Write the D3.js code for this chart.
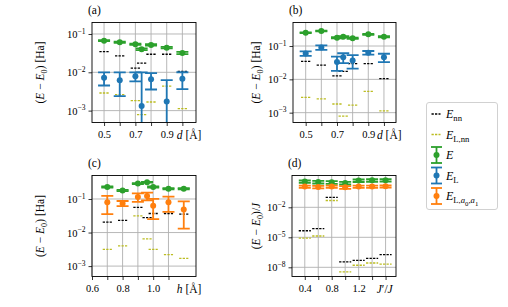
<!DOCTYPE html>
<html>
<head>
<meta charset="utf-8">
<script src="https://cdn.jsdelivr.net/npm/d3@7"></script>
<style>
  body { margin: 0; background: #fff; }
  svg { display: block; }
  text { font-family: "Liberation Serif", "DejaVu Serif", serif; fill: #000; }
</style>
</head>
<body>
<svg id="fig" width="508" height="307"></svg>
<script>
// ---- data ----
// panels (a) and (b): bond length d [Å]
const dVals = [0.5, 0.6, 0.7, 0.74, 0.8, 0.9, 1.0]
const dEnn = [0.0347, 0.0268, 0.0128, 0.0173, 0.0296, 0.0296, 0.0105]
const dELnn = [0.00288, 0.0026, 0.00182, 0.00079, 0.00168, 0.00438, 0.00113]
const aE = [0.067, 0.061, 0.054, 0.040, 0.052, 0.044, 0.032]
const aEerr = [0.002, 0.002, 0.002, 0.002, 0.002, 0.002, 0.002]
const aEL = [0.00726, 0.0062, 0.00787, 0.00132, 0.00656, 0.00172, 0.00684]
const aELerr = [0.00274, 0.0038, 0.0021, 0.0087, 0.0030, 0.0045, 0.0032]
const bE = [0.251, 0.282, 0.178, 0.19, 0.17, 0.224, 0.19]
const bEerr = [0.007, 0.007, 0.007, 0.007, 0.007, 0.007, 0.007]
const bEL = [0.060, 0.091, 0.033, 0.0457, 0.037, 0.063, 0.0457]
const bELerr = [0.0095, 0.014, 0.015, 0.015, 0.016, 0.008, 0.013]

// panel (c): h [Å]
const hVals = [0.7, 0.8, 0.9, 0.96, 1.0, 1.1, 1.2]
const cEnn = [0.0205, 0.023, 0.056, 0.028, 0.037, 0.037, 0.0356]
const cELnn = [0.00316, 0.0040, 0.0316, 0.0065, 0.00316, 0.0022, 0.0017]
const cE = [0.228, 0.18, 0.287, 0.315, 0.228, 0.203, 0.203]
const cEerr = [0.008, 0.008, 0.008, 0.008, 0.008, 0.008, 0.008]
const cEa = [0.0795, 0.074, 0.115, 0.123, 0.063, 0.0795, 0.049]
const cEaErr = [0.044, 0.013, 0.033, 0.032, 0.038, 0.038, 0.036]

// panel (d): J'/J
const jVals = [0.4, 0.6, 0.8, 1.0, 1.2, 1.4, 1.6]
const jEnn = [4.5e-5, 7.4e-5, 0.1, 3.5e-8, 5.0e-8, 7.9e-8, 1.86e-7]
const jELnn = [8.3e-6, 1.35e-5, 0.048, 3.5e-9, 1.6e-8, 2.7e-8, 2.1e-8]
const jE = [3.8, 3.4, 3.2, 2.7, 4.7, 5.0, 5.2]
const jEerr = [1.0, 1.0, 1.0, 0.8, 1.3, 1.4, 1.4]
const jEa = [1.17, 1.08, 1.17, 1.0, 1.17, 1.17, 1.26]
const jEaErr = [0.3, 0.3, 0.3, 0.3, 0.3, 0.3, 0.3]

// tick values
const dTicks = [0.5, 0.6, 0.7, 0.8, 0.9, 1.0]
const dTickLabels = [0.5, 0.7, 0.9]
const hTicks = [0.6, 0.7, 0.8, 0.9, 1.0, 1.1]
const hTickLabels = [0.6, 0.8, 1.0]
const jTicks = [0.4, 0.6, 0.8, 1.0, 1.2, 1.4, 1.6]
const jTickLabels = [0.4, 0.8, 1.2]
const yTicksHa = [-1, -2, -3]
const yTicksJ = [-2, -5, -8]

const GREEN = '#2ca02c', BLUE = '#1f77b4', ORANGE = '#ff7f0e', OLIVE = '#bcbd22'

const svg = d3.select('#fig')

// writes mixed roman / italic / sub / superscript text into a <text>
// each part: [string, italic, level]  level 0 normal, 1 sub, 2 subsub, -1 super
function rich(text, parts, size) {
    const shift = { 0: 0, 1: 0.28 * size, 2: 0.48 * size, '-1': -0.42 * size }
    const fs = { 0: size, 1: 0.72 * size, 2: 0.56 * size, '-1': 0.72 * size }
    let cur = 0
    parts.forEach(([t, it, lv = 0]) => {
        const s = shift[lv]
        text.append('tspan')
            .attr('dy', s - cur)
            .attr('font-size', fs[lv])
            .attr('font-style', it ? 'italic' : 'normal')
            .text(t)
        cur = s
    })
}

function panel(cfg) {
    const { left, top, width, height, xDomain, yDomain } = cfg
    const g = svg.append('g').attr('transform', `translate(${left},${top})`)
    const x = d3.scaleLinear().domain(xDomain).range([0, width])
    const y = d3.scaleLog().domain(yDomain.map(e => Math.pow(10, e))).range([height, 0])

    // grid
    g.append('g').selectAll('line').data(cfg.xTicks).join('line')
        .attr('x1', d => x(d)).attr('x2', d => x(d))
        .attr('y1', 0).attr('y2', height)
        .attr('stroke', '#b0b0b0').attr('stroke-width', 0.9)
    g.append('g').selectAll('line').data(cfg.yTicks).join('line')
        .attr('x1', 0).attr('x2', width)
        .attr('y1', d => y(Math.pow(10, d))).attr('y2', d => y(Math.pow(10, d)))
        .attr('stroke', '#b0b0b0').attr('stroke-width', 0.9)

    // axes
    const xAxis = g.append('g')
        .attr('transform', `translate(0,${height})`)
        .call(d3.axisBottom(x).tickValues(cfg.xTicks).tickSize(3.5).tickPadding(4.5)
            .tickFormat(d => cfg.xLabels.some(v => Math.abs(v - d) < 1e-9) ? d3.format('.1f')(d) : ''))
        .attr('font-family', null).attr('font-size', null)
    xAxis.select('.domain').remove()
    xAxis.selectAll('.tick line').attr('stroke', '#000').attr('stroke-width', 0.8)
    xAxis.selectAll('.tick text').attr('font-size', 10.5)

    const yAxis = g.append('g')
        .call(d3.axisLeft(y).tickValues(cfg.yTicks.map(e => Math.pow(10, e))).tickSize(3.5).tickFormat(() => ''))
        .attr('font-family', null).attr('font-size', null)
    yAxis.select('.domain').remove()
    yAxis.selectAll('.tick line').attr('stroke', '#000').attr('stroke-width', 0.8)
    yAxis.selectAll('.tick').each(function (d) {
        const t = d3.select(this).append('text')
            .attr('x', -6.5).attr('y', 3.5)
            .attr('text-anchor', 'end')
        rich(t, [['10', false, 0], ['\u2212' + Math.round(-Math.log10(d)), false, -1]], 10.5)
    })

    // data layer, clipped to the axes box
    const clipId = `clip-${cfg.name}`
    g.append('clipPath').attr('id', clipId)
        .append('rect').attr('width', width).attr('height', height)
    const data = g.append('g').attr('clip-path', `url(#${clipId})`)

    const dashes = (xs, vs, color) => {
        data.append('g').selectAll('line').data(xs).join('line')
            .attr('x1', d => x(d - cfg.dashHalf))
            .attr('x2', d => x(d + cfg.dashHalf))
            .attr('y1', (d, i) => y(vs[i])).attr('y2', (d, i) => y(vs[i]))
            .attr('stroke', color).attr('stroke-width', 1.3)
            .attr('stroke-dasharray', '2.3,1.2')
    }
    const errorbars = (xs, vs, es, color) => {
        // a lower end at or below zero runs off the bottom of the log axis
        const lo = v => v > 0 ? y(v) : height + 20
        const eb = data.append('g').selectAll('g').data(xs).join('g')
        eb.append('line')
            .attr('x1', d => x(d)).attr('x2', d => x(d))
            .attr('y1', (d, i) => y(vs[i] + es[i]))
            .attr('y2', (d, i) => lo(vs[i] - es[i]))
            .attr('stroke', color).attr('stroke-width', 1.8)
        eb.append('line')
            .attr('x1', d => x(d) - 6).attr('x2', d => x(d) + 6)
            .attr('y1', (d, i) => y(vs[i] + es[i])).attr('y2', (d, i) => y(vs[i] + es[i]))
            .attr('stroke', color).attr('stroke-width', 1.8)
        eb.append('line')
            .attr('x1', d => x(d) - 6).attr('x2', d => x(d) + 6)
            .attr('y1', (d, i) => lo(vs[i] - es[i])).attr('y2', (d, i) => lo(vs[i] - es[i]))
            .attr('stroke', color).attr('stroke-width', 1.8)
        eb.append('circle')
            .attr('cx', d => x(d)).attr('cy', (d, i) => y(vs[i]))
            .attr('r', 3).attr('fill', color)
    }

    cfg.series.forEach(s => s.kind === 'dash'
        ? dashes(cfg.xVals, s.v, s.color)
        : errorbars(cfg.xVals, s.v, s.e, s.color))

    // frame
    g.append('rect').attr('width', width).attr('height', height)
        .attr('fill', 'none').attr('stroke', '#000').attr('stroke-width', 0.9)

    // panel letter
    g.append('text').attr('x', -4).attr('y', -8.5)
        .attr('font-size', 11.5).text(cfg.letter)

    // x label, sits on the tick label line
    const xl = g.append('text')
        .attr('x', width * 0.815).attr('y', height + 16)
    rich(xl, cfg.xTitle, 11.5)

    // y label
    const yl = g.append('text')
        .attr('transform', `translate(${cfg.yTitleX},${height / 2}) rotate(-90)`)
        .attr('text-anchor', 'middle')
    rich(yl, cfg.yTitle, 11.5)
}

const yTitleHa = [['(', false], ['E', true], [' \u2212 ', false], ['E', true], ['0', false, 1], [')', false, 0], [' [Ha]', false]]
const yTitleJ = [['(', false], ['E', true], [' \u2212 ', false], ['E', true], ['0', false, 1], [')/', false, 0], ['J', true]]
const xTitleD = [['d', true], [' [\u00c5]', false]]
const xTitleH = [['h', true], [' [\u00c5]', false]]
const xTitleJ = [['J', true], ['\u2032/', false], ['J', true]]

panel({
    name: 'a', letter: '(a)', left: 92, top: 22.5, width: 104, height: 100,
    xDomain: [0.423, 1.087], yDomain: [-3.31, -0.70],
    xTicks: dTicks, xLabels: dTickLabels, yTicks: yTicksHa,
    xVals: dVals, dashHalf: 0.03, yTitleX: -48,
    xTitle: xTitleD, yTitle: yTitleHa,
    series: [
        { kind: 'dash', v: dEnn, color: '#000' },
        { kind: 'dash', v: dELnn, color: OLIVE },
        { kind: 'err', v: aE, e: aEerr, color: GREEN },
        { kind: 'err', v: aEL, e: aELerr, color: BLUE }
    ]
})
panel({
    name: 'b', letter: '(b)', left: 293, top: 22.5, width: 103, height: 100,
    xDomain: [0.419, 1.077], yDomain: [-3.295, -0.294],
    xTicks: dTicks, xLabels: dTickLabels, yTicks: yTicksHa,
    xVals: dVals, dashHalf: 0.03, yTitleX: -33,
    xTitle: xTitleD, yTitle: yTitleHa,
    series: [
        { kind: 'dash', v: dEnn, color: '#000' },
        { kind: 'dash', v: dELnn, color: OLIVE },
        { kind: 'err', v: bE, e: bEerr, color: GREEN },
        { kind: 'err', v: bEL, e: bELerr, color: BLUE }
    ]
})
panel({
    name: 'c', letter: '(c)', left: 92, top: 175.5, width: 104, height: 101,
    xDomain: [0.6, 1.28], yDomain: [-3.31, -0.30],
    xTicks: hTicks, xLabels: hTickLabels, yTicks: yTicksHa,
    xVals: hVals, dashHalf: 0.03, yTitleX: -48,
    xTitle: xTitleH, yTitle: yTitleHa,
    series: [
        { kind: 'dash', v: cEnn, color: '#000' },
        { kind: 'dash', v: cELnn, color: OLIVE },
        { kind: 'err', v: cE, e: cEerr, color: GREEN },
        { kind: 'err', v: cEa, e: cEaErr, color: ORANGE }
    ]
})
panel({
    name: 'd', letter: '(d)', left: 292, top: 175.5, width: 104, height: 101,
    xDomain: [0.21, 1.755], yDomain: [-8.92, 1.18],
    xTicks: jTicks, xLabels: jTickLabels, yTicks: yTicksJ,
    xVals: jVals, dashHalf: 0.09, yTitleX: -32,
    xTitle: xTitleJ, yTitle: yTitleJ,
    series: [
        { kind: 'dash', v: jEnn, color: '#000' },
        { kind: 'dash', v: jELnn, color: OLIVE },
        { kind: 'err', v: jE, e: jEerr, color: GREEN },
        { kind: 'err', v: jEa, e: jEaErr, color: ORANGE }
    ]
})

// ---- legend ----
const legendItems = [
    { kind: 'dash', color: '#000', label: [['E', true], ['nn', false, 1]] },
    { kind: 'dash', color: OLIVE, label: [['E', true], ['L,nn', false, 1]] },
    { kind: 'err', color: GREEN, label: [['E', true]] },
    { kind: 'err', color: BLUE, label: [['E', true], ['L', false, 1]] },
    { kind: 'err', color: ORANGE, label: [['E', true], ['L,', false, 1], ['a', true, 1], ['0', false, 2], [',', false, 1], ['a', true, 1], ['1', false, 2]] }
]
const lg = svg.append('g').attr('transform', 'translate(426.5,102.5)')
lg.append('rect').attr('width', 71).attr('height', 107).attr('rx', 2.5)
    .attr('fill', '#fff').attr('stroke', '#cccccc').attr('stroke-width', 0.9)
legendItems.forEach((it, i) => {
    const cy = 11.5 + i * 20.5
    const row = lg.append('g').attr('transform', `translate(0,${cy})`)
    if (it.kind === 'dash') {
        row.append('line').attr('x1', 5).attr('x2', 14).attr('y1', 0).attr('y2', 0)
            .attr('stroke', it.color).attr('stroke-width', 1.3).attr('stroke-dasharray', '2.3,1.2')
    } else {
        row.append('line').attr('x1', 10).attr('x2', 10).attr('y1', -8).attr('y2', 8)
            .attr('stroke', it.color).attr('stroke-width', 1.8)
        row.append('line').attr('x1', 4.5).attr('x2', 15.5).attr('y1', -8).attr('y2', -8)
            .attr('stroke', it.color).attr('stroke-width', 1.8)
        row.append('line').attr('x1', 4.5).attr('x2', 15.5).attr('y1', 8).attr('y2', 8)
            .attr('stroke', it.color).attr('stroke-width', 1.8)
        row.append('circle').attr('cx', 10).attr('cy', 0).attr('r', 3).attr('fill', it.color)
    }
    const t = row.append('text').attr('x', 19.5).attr('y', 4)
    rich(t, it.label, 12)
})
</script>
</body>
</html>
